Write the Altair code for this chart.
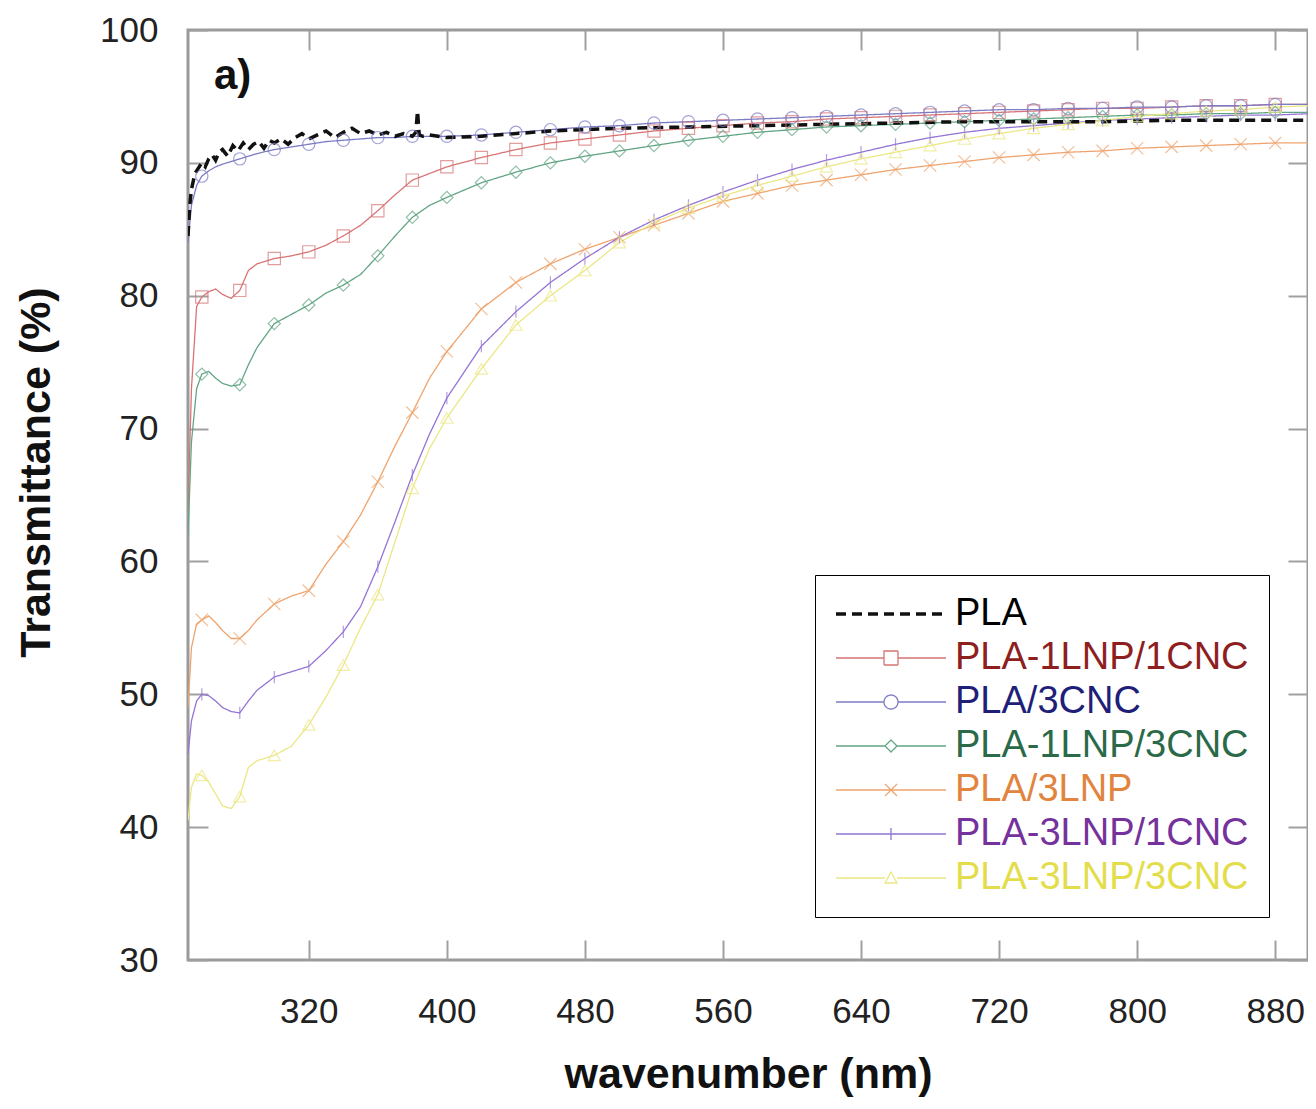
import json
import altair as alt
import pandas as pd

# ---------------- data ----------------
SERIES = ["PLA", "PLA-1LNP/1CNC", "PLA/3CNC", "PLA-1LNP/3CNC",
          "PLA/3LNP", "PLA-3LNP/1CNC", "PLA-3LNP/3CNC"]

PLA_WL = [250, 251, 252, 254, 256, 258, 260, 262, 264, 266, 268, 270, 273, 276, 279,
          282, 285, 288, 291, 294, 297, 300, 304, 308, 312, 316, 320, 325, 330, 335,
          340, 345, 350, 355, 360, 365, 370, 375, 380, 382, 383, 384, 386, 390, 400,
          420, 440, 460, 480, 500, 540, 580, 620, 660, 700, 740, 780, 820, 860, 900]
PLA_T = [84.5, 86.8, 88.0, 89.2, 89.6, 90.0, 89.7, 90.3, 90.6, 90.2, 90.8, 91.0, 90.5,
         91.3, 90.9, 91.5, 91.0, 91.4, 91.6, 91.1, 91.7, 91.5, 91.8, 91.4, 91.9, 92.2,
         91.8, 92.1, 92.4, 91.9, 92.3, 92.6, 92.2, 92.4, 92.1, 92.3, 92.0, 92.2, 92.0,
         92.3, 93.9, 92.1, 92.0, 92.1, 91.9, 92.0, 92.2, 92.4, 92.5, 92.6, 92.7, 92.8,
         92.9, 93.0, 93.1, 93.1, 93.1, 93.2, 93.2, 93.2]

WL = [250, 252, 255, 258, 262, 266, 270, 275, 280, 285, 290, 300, 310, 320, 330, 340,
      350, 360, 370, 380, 390, 400, 420, 440, 460, 480, 500, 520, 540, 560, 580, 600,
      620, 640, 660, 680, 700, 720, 740, 760, 780, 800, 820, 840, 860, 880, 900]

T_1LNP_1CNC = [64.0, 73.0, 79.2, 79.9, 80.3, 80.5, 80.1, 79.8, 80.4, 81.9, 82.4, 82.8,
               83.0, 83.3, 83.8, 84.5, 85.3, 86.4, 87.6, 88.7, 89.2, 89.7, 90.4, 91.0,
               91.5, 91.8, 92.1, 92.4, 92.6, 92.8, 93.0, 93.1, 93.3, 93.4, 93.5, 93.6,
               93.7, 93.8, 93.9, 94.0, 94.1, 94.1, 94.2, 94.3, 94.3, 94.4, 94.4]
T_3CNC = [84.0, 86.8, 88.3, 89.0, 89.4, 89.7, 89.9, 90.1, 90.3, 90.5, 90.7, 91.0, 91.2,
          91.4, 91.6, 91.7, 91.8, 91.9, 91.9, 92.0, 92.0, 92.0, 92.1, 92.3, 92.5, 92.7,
          92.8, 93.0, 93.1, 93.2, 93.3, 93.4, 93.5, 93.6, 93.7, 93.8, 93.9, 94.0, 94.0,
          94.1, 94.1, 94.2, 94.2, 94.3, 94.3, 94.4, 94.4]
T_1LNP_3CNC = [62.0, 69.0, 73.0, 74.1, 74.3, 73.8, 73.4, 73.2, 73.3, 74.8, 76.1, 77.9,
               78.6, 79.3, 80.2, 80.8, 81.6, 83.0, 84.5, 85.9, 86.8, 87.4, 88.5, 89.3,
               90.0, 90.5, 90.9, 91.3, 91.7, 92.0, 92.3, 92.5, 92.7, 92.8, 92.9, 93.0,
               93.1, 93.2, 93.3, 93.4, 93.5, 93.6, 93.6, 93.7, 93.7, 93.8, 93.8]
T_3LNP = [49.0, 53.5, 55.3, 55.6, 55.9, 55.4, 54.8, 54.2, 54.2, 54.8, 55.6, 56.8, 57.4,
          57.8, 59.8, 61.5, 63.5, 66.0, 68.7, 71.2, 73.8, 75.8, 79.0, 81.0, 82.4, 83.5,
          84.4, 85.3, 86.2, 87.1, 87.7, 88.3, 88.7, 89.1, 89.5, 89.8, 90.1, 90.4, 90.6,
          90.8, 90.9, 91.1, 91.2, 91.3, 91.4, 91.5, 91.5]
T_3LNP_1CNC = [45.5, 48.0, 49.5, 50.0, 49.9, 49.5, 49.0, 48.7, 48.6, 49.5, 50.3, 51.3,
               51.7, 52.1, 53.3, 54.7, 56.6, 59.6, 63.0, 66.5, 69.6, 72.3, 76.2, 78.8,
               81.0, 82.8, 84.4, 85.7, 86.8, 87.8, 88.7, 89.5, 90.2, 90.8, 91.4, 91.9,
               92.3, 92.6, 92.8, 93.0, 93.2, 93.3, 93.4, 93.5, 93.6, 93.6, 93.7]
T_3LNP_3CNC = [40.5, 43.0, 44.0, 43.9, 43.4, 42.5, 41.6, 41.4, 42.3, 44.5, 45.0, 45.4,
               46.1, 47.7, 49.8, 52.2, 55.0, 57.5, 61.5, 65.5, 68.5, 70.8, 74.5, 77.8,
               80.0, 81.9, 84.0, 85.5, 86.6, 87.5, 88.3, 89.0, 89.7, 90.3, 90.8, 91.3,
               91.8, 92.2, 92.6, 92.9, 93.2, 93.5, 93.7, 93.9, 94.0, 94.2, 94.3]

MARKER_WL = [258, 280, 300, 320, 340, 360, 380, 400, 420, 440, 460, 480, 500, 520, 540,
             560, 580, 600, 620, 640, 660, 680, 700, 720, 740, 760, 780, 800, 820, 840,
             860, 880]

X_TICKS = [320, 400, 480, 560, 640, 720, 800, 880]
Y_TICKS = [30, 40, 50, 60, 70, 80, 90, 100]

# ---------------- styles ----------------
LINE_COLORS = ["#111111", "#d87474", "#7c7cc4", "#62a584", "#eea46e", "#9474d4", "#ece785"]
LABEL_COLORS = ["#000000", "#8e1f1f", "#1f1f7a", "#2a6a48", "#e2843e", "#76329c", "#e3dd4c"]
DASHES = [[10, 6], [1, 0], [1, 0], [1, 0], [1, 0], [1, 0], [1, 0]]
WIDTHS = [3.5, 1.3, 1.3, 1.3, 1.3, 1.3, 1.3]
POINT_SHAPES = ["square", "circle", "diamond", "M-1,-1L1,1M-1,1L1,-1", "M0,-1L0,1",
                "triangle-up"]
LEGEND_PATHS = [
    "M-3.6,0L18.4,0",
    "M-3.6,0L6,0M8.8,0L18.4,0M6,-1.4L8.8,-1.4L8.8,1.4L6,1.4Z",
    "M-3.6,0L6,0M8.8,0L18.4,0M6,0A1.4,1.4 0 1 1 8.8,0A1.4,1.4 0 1 1 6,0Z",
    "M-3.6,0L6.2,0M8.6,0L18.4,0M7.4,-1.2L8.6,0L7.4,1.2L6.2,0Z",
    "M-3.6,0L18.4,0M6.2,-1.2L8.6,1.2M6.2,1.2L8.6,-1.2",
    "M-3.6,0L18.4,0M7.4,-1.2L7.4,1.2",
    "M-3.6,0L6.2,0M8.6,0L18.4,0M7.4,-1.2L8.6,1L6.2,1Z",
]

# ---------------- tables ----------------
curves = {
    "PLA-1LNP/1CNC": T_1LNP_1CNC,
    "PLA/3CNC": T_3CNC,
    "PLA-1LNP/3CNC": T_1LNP_3CNC,
    "PLA/3LNP": T_3LNP,
    "PLA-3LNP/1CNC": T_3LNP_1CNC,
    "PLA-3LNP/3CNC": T_3LNP_3CNC,
}
rows = []
for name, vals in curves.items():
    for w, t in zip(WL, vals):
        rows.append({"series": name, "wl": w, "T": t})
for w, t in zip(PLA_WL, PLA_T):
    rows.append({"series": "PLA", "wl": w, "T": t})
df = pd.DataFrame(rows)
markers = df[(df["series"] != "PLA") & (df["wl"].isin(MARKER_WL))]

idx = f"indexof({json.dumps(SERIES)}, datum.value)"
shape_expr = f"{json.dumps(LEGEND_PATHS)}[{idx}]"
label_expr = f"{json.dumps(LABEL_COLORS)}[{idx}]"
dash_expr = f"{json.dumps(DASHES)}[{idx}]"
width_expr = f"{json.dumps(WIDTHS)}[{idx}]"

FONT = "Liberation Sans"
TICK_COLOR = "#a0a0a0"

x_scale = alt.Scale(domain=[250, 899], nice=False, zero=False)
y_scale = alt.Scale(domain=[30, 100], nice=False, zero=False)
color_scale = alt.Scale(domain=SERIES, range=LINE_COLORS)

lines = alt.Chart(df).mark_line(clip=True, interpolate="linear").encode(
    x=alt.X("wl:Q", scale=x_scale,
            axis=alt.Axis(orient="bottom", values=X_TICKS, offset=-20, tickSize=20,
                          tickColor=TICK_COLOR, tickWidth=2, domain=False, grid=False,
                          labelFont=FONT, labelFontSize=35, labelColor="#222222",
                          labelPadding=34, title="wavenumber (nm)", titleFont=FONT,
                          titleFontSize=43, titleFontWeight="bold", titleColor="#111111",
                          titlePadding=24)),
    y=alt.Y("T:Q", scale=y_scale,
            axis=alt.Axis(orient="left", values=Y_TICKS, offset=-20, tickSize=20,
                          tickColor=TICK_COLOR, tickWidth=2, domain=False, grid=False,
                          labelFont=FONT, labelFontSize=35, labelColor="#222222",
                          labelPadding=30, title="Transmittance (%)", titleFont=FONT,
                          titleFontSize=43, titleFontWeight="bold", titleColor="#111111",
                          titlePadding=41, titleY=442)),
    color=alt.Color("series:N", scale=color_scale,
                    legend=alt.Legend(title=None, orient="none", legendX=627, legendY=545,
                                      padding=20, strokeColor="#000000", fillColor="#ffffff",
                                      symbolType={"expr": shape_expr}, symbolSize=100,
                                      symbolStrokeWidth={"expr": width_expr},
                                      symbolDash={"expr": dash_expr},
                                      symbolFillColor="#ffffff",
                                      labelColor={"expr": label_expr}, labelFont=FONT,
                                      labelFontSize=38, labelOffset=82, labelLimit=0,
                                      rowPadding=6, symbolOffset=0)),
    strokeDash=alt.StrokeDash("series:N", scale=alt.Scale(domain=SERIES, range=DASHES),
                              legend=None),
    strokeWidth=alt.StrokeWidth("series:N",
                                scale=alt.Scale(type="ordinal", domain=SERIES, range=WIDTHS),
                                legend=None),
    detail="series:N",
)

points = alt.Chart(markers).mark_point(filled=False, size=150, strokeWidth=1.2, clip=True).encode(
    x=alt.X("wl:Q", scale=x_scale,
            axis=alt.Axis(orient="top", values=X_TICKS, offset=-20, tickSize=20,
                          tickColor=TICK_COLOR, tickWidth=2, domain=False, grid=False,
                          labels=False, title=None)),
    y=alt.Y("T:Q", scale=y_scale,
            axis=alt.Axis(orient="right", values=Y_TICKS, offset=-20, tickSize=20,
                          tickColor=TICK_COLOR, tickWidth=2, domain=False, grid=False,
                          labels=False, title=None)),
    color=alt.Color("series:N", scale=color_scale, legend=None),
    shape=alt.Shape("series:N", scale=alt.Scale(domain=SERIES[1:], range=POINT_SHAPES),
                    legend=None),
)

panel_label = alt.Chart(pd.DataFrame({"t": ["a)"]})).mark_text(
    align="left", baseline="middle", font=FONT, fontSize=42, fontWeight="bold",
    color="#111111"
).encode(text="t:N", x=alt.value(26), y=alt.value(46))

chart = alt.layer(lines, points, panel_label).properties(
    width=1120, height=930,
    autosize=alt.AutoSizeParams(type="none"),
    padding={"left": 180, "top": 22, "right": 0, "bottom": 138},
).configure_view(stroke="#9a9a9a", strokeWidth=3)

chart.save("out.html", embed_options={"renderer": "svg", "actions": False})
